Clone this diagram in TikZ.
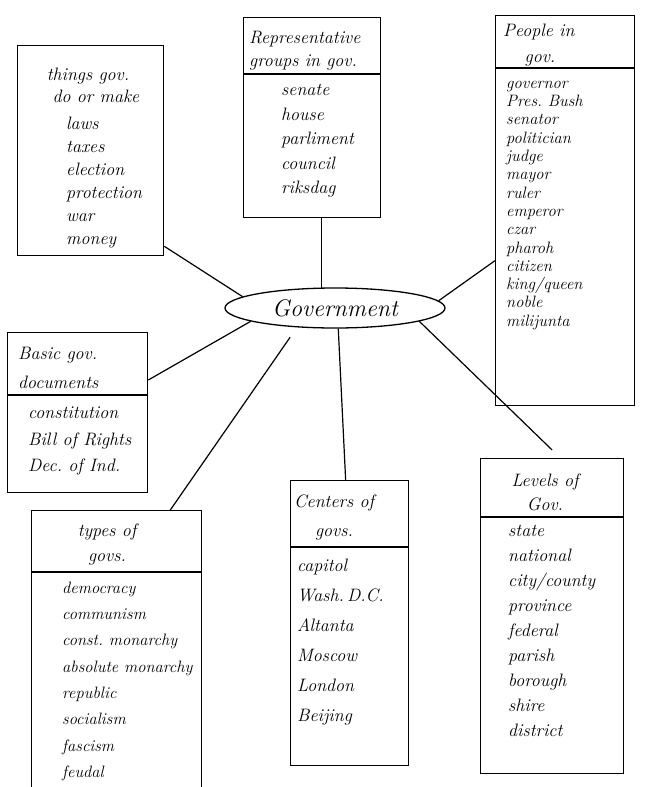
\documentclass[tikz,border=0pt]{standalone}
\usepackage{tikz}
\usetikzlibrary{shapes.geometric}
\begin{document}
\begin{tikzpicture}[x=1pt,y=-1pt]
	\tikzstyle{every node}+=[inner sep=0pt]
	\tikzstyle{box}=[draw=black, line width=1.3pt, rectangle, anchor=north west]
	\tikzstyle{word}=[font=\fontsize{18}{20}\selectfont\itshape, anchor=base]
	\tikzstyle{item}=[word, anchor=base west]
	\tikzstyle{small}=[item, font=\fontsize{16.5}{18}\selectfont\itshape]
	\tikzstyle{link}=[black, line width=1.2pt]
	\useasboundingbox (0,0) rectangle (649,787);
	\clip (0,0) rectangle (649,787);
	% centre
	\node [ellipse, draw=black, line width=1.3pt, minimum width=220pt, minimum height=40pt, font=\fontsize{24}{26}\selectfont\itshape] (gov) at (335,308) {Government};
	% boxes
	\node [box, minimum width=146pt, minimum height=210pt] (things) at (17,45) {};
	\node [box, minimum width=137pt, minimum height=200pt] (rep) at (243,17) {};
	\node [box, minimum width=139pt, minimum height=390pt] (people) at (495,15) {};
	\node [box, minimum width=140pt, minimum height=160pt] (basic) at (7,332) {};
	\node [box, minimum width=170pt, minimum height=300pt] (types) at (31,510) {};
	\node [box, minimum width=118pt, minimum height=285pt] (centers) at (290,480) {};
	\node [box, minimum width=143pt, minimum height=315pt] (levels) at (480,458) {};
	% dividers
	\draw [link] ([yshift=-57pt]rep.north west) -- ([yshift=-57pt]rep.north east);
	\draw [link] ([yshift=-53pt]people.north west) -- ([yshift=-53pt]people.north east);
	\draw [link] ([yshift=-63pt]basic.north west) -- ([yshift=-63pt]basic.north east);
	\draw [link] ([yshift=-62pt]types.north west) -- ([yshift=-62pt]types.north east);
	\draw [link] ([yshift=-67pt]centers.north west) -- ([yshift=-67pt]centers.north east);
	\draw [link] ([yshift=-59pt]levels.north west) -- ([yshift=-59pt]levels.north east);
	% titles
	\node [word] (things-t1) at (88,80) {things gov.};
	\node [word] (things-t2) at (96,102) {do or make};
	\node [item] (rep-t1) at (249,43) {Representative};
	\node [item] (rep-t2) at (249,66) {groups in gov.};
	\node [item] (people-t1) at (503,36) {People in};
	\node [word] (people-t2) at (540,62) {gov.};
	\node [item] (basic-t1) at (18,359) {Basic gov.};
	\node [item] (basic-t2) at (18,388) {documents};
	\node [word] (types-t1) at (107,536) {types of};
	\node [word] (types-t2) at (107,561) {govs.};
	\node [word] (centers-t1) at (334,507) {Centers of};
	\node [word] (centers-t2) at (334,536) {govs.};
	\node [word] (levels-t1) at (545,486) {Levels of};
	\node [word] (levels-t2) at (545,510) {Gov.};
	% lists
	\foreach \t [count=\i] in {laws, taxes, election, protection, war, money}
		\node [item] (things-\i) at (66,106+23*\i) {\t};
	\foreach \t [count=\i] in {senate, house, parliment, council, riksdag}
		\node [item] (rep-\i) at (281,71+24.5*\i) {\t};
	\foreach \t [count=\i] in {governor, Pres.\ Bush, senator, politician, judge, mayor, ruler, emperor, czar, pharoh, citizen, king/queen, noble, milijunta}
		\node [small] (people-\i) at (506,70+18.3*\i) {\t};
	\foreach \t [count=\i] in {constitution, Bill of Rights, Dec.\ of Ind.}
		\node [item] (basic-\i) at (28,392+26.5*\i) {\t};
	\foreach \t [count=\i] in {democracy, communism, const.\ monarchy, absolute monarchy, republic, socialism, fascism, feudal}
		\node [small] (types-\i) at (62,567+26.3*\i) {\t};
	\foreach \t [count=\i] in {capitol, Wash.\,D.C., Altanta, Moscow, London, Beijing}
		\node [item] (centers-\i) at (297,541+30*\i) {\t};
	\foreach \t [count=\i] in {state, national, city/county, province, federal, parish, borough, shire, district}
		\node [item] (levels-\i) at (508,511+25*\i) {\t};
	% connectors
	\draw [link] (gov.173) -- ([yshift=10pt]things.south east);
	\draw [link] (gov.123) -- (gov.123 |- rep.south);
	\draw [link] (gov.4) -- ([yshift=-50pt]people.west);
	\draw [link] (gov.189) -- ([yshift=-48pt]basic.north east);
	\draw [link, shorten <=12pt] (gov.207) -- ([xshift=-32pt]types.north east);
	\draw [link] (gov.279) -- ([xshift=-4pt]centers.north);
	\draw [link] (gov.351) -- ([yshift=8pt]levels.north);
\end{tikzpicture}
\end{document}
